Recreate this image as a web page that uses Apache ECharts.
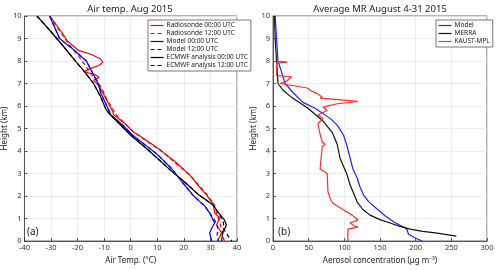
<!DOCTYPE html>
<html><head><meta charset="utf-8">
<script src="https://cdn.jsdelivr.net/npm/echarts@6/dist/echarts.min.js"></script>
<style>html,body{margin:0;padding:0;background:#fff}#c{width:500px;height:270px}</style>
</head><body><div id="c"></div>
<script>
// Panel (a): air temperature [T (°C), height (km)]
const radiosonde00 = [[-30.5,10],[-28,9.6],[-25.5,9.2],[-24,8.9],[-21,8.6],[-19.7,8.47],[-15,8.3],[-11.5,8.1],[-10.5,7.95],[-12,7.8],[-15.6,7.65],[-17.5,7.52],[-13.5,7.4],[-11.9,7.27],[-14,7.14],[-12.3,6.95],[-11,6.7],[-10.4,6.56],[-8.6,6.16],[-7.4,5.9],[-6.3,5.6],[-2,5.2],[1.1,4.83],[3.0,4.7],[11.2,4.04],[17,3.5],[22.3,2.93],[25.5,2.45],[28.5,2.05],[31,1.65],[31.6,1.24],[33.5,1.02],[32.3,0.71],[34.2,0.35],[32.7,0.0]];
const radiosonde12 = [[-30.5,10],[-26,9.2],[-23,8.7],[-19.5,8.2],[-16.5,7.7],[-14.5,7.35],[-12.5,7.1],[-11,6.8],[-9,6.3],[-7,5.9],[-5.5,5.6],[1.5,4.8],[11.5,4.0],[22.5,2.9],[28.5,2.1],[31.5,1.6],[32.2,1.3],[33,1.0],[33.8,0.7],[34.5,0.4],[35,0.1],[35.2,0]];
const model00 = [[-30.5,10],[-26.8,9.0],[-22,8.55],[-16.7,8.0],[-14.5,7.5],[-12.3,7.0],[-11.2,6.56],[-8.6,5.9],[-7.4,5.59],[-3,5.15],[0.7,4.7],[10,3.85],[15.5,3.2],[19.5,2.6],[23.4,2.04],[26,1.75],[27.9,1.55],[29.7,1.24],[31.6,0.8],[30.5,0.58],[29.7,0.35],[30.5,0.0]];
const model12 = [[-30.5,10],[-26.8,9.0],[-22,8.55],[-16.7,8.0],[-14.5,7.5],[-12.3,7.0],[-11.2,6.56],[-8.6,5.9],[-7.4,5.59],[-3,5.15],[0.7,4.7],[10,3.85],[15.5,3.2],[19.5,2.6],[23.4,2.04],[26,1.75],[27.9,1.55],[29.7,1.24],[31.5,0.95],[32.5,0.7],[33,0.5],[32.5,0.3],[33,0.0]];
const ecmwf00 = [[-35.3,10],[-30,9.3],[-25,8.6],[-20.5,7.95],[-17.8,7.58],[-14,7.0],[-11.5,6.45],[-9.3,5.85],[-8.2,5.67],[-6.7,5.5],[0,4.7],[7,4.0],[14.9,3.15],[20.5,2.6],[25.7,2.04],[31,1.6],[32.3,1.37],[35.3,0.93],[36,0.71],[34.6,0.35],[34.2,0.0]];
const ecmwf12 = [[-35.3,10],[-30,9.3],[-25,8.6],[-20.5,7.95],[-17.8,7.58],[-14,7.0],[-11.5,6.45],[-9.3,5.85],[-8.2,5.67],[-6.7,5.5],[0,4.7],[7,4.0],[14.9,3.15],[20.5,2.6],[25.7,2.04],[31,1.6],[32.3,1.37],[34.5,0.95],[35,0.75],[34.6,0.62],[36.4,0.27],[38,0.0]];
// Panel (b): aerosol concentration [µg m-3, height (km)]
const modelMR = [[3,10],[5,9],[7,8],[12.6,7.45],[17,7.0],[28,6.6],[42,6.16],[59,5.9],[80,5.45],[90,5.15],[99,4.7],[104,4.2],[108,3.7],[112,3.2],[118,2.8],[122,2.4],[127,2.04],[134,1.75],[146,1.42],[157,1.12],[169,0.86],[178,0.7],[185,0.6],[188,0.5],[190,0.3],[200,0.12],[209,0]];
const merra = [[2,10],[3,9],[5,8],[7,7.0],[14,6.7],[28,6.34],[49,5.9],[69,5.37],[83,4.83],[90,4.3],[94,3.68],[104,2.93],[108,2.5],[112,2.2],[118,1.73],[126,1.4],[136,1.15],[150,0.95],[164,0.8],[178,0.65],[192,0.53],[210,0.43],[230,0.35],[257,0.22]];
const kaust = [[3,8.0],[20,7.95],[5,7.9],[5,7.35],[26,7.3],[19,7.1],[10,7.0],[48,6.8],[52,6.7],[62,6.55],[69,6.4],[66,6.35],[108,6.24],[119,6.2],[90,6.1],[70,5.95],[76,5.8],[63,5.6],[70,5.45],[63,5.2],[66,4.75],[69,4.4],[73,4.3],[69,4.2],[66,3.2],[76,3.0],[77,2.2],[80,1.9],[84,1.68],[98,1.4],[111,1.15],[119,0.93],[108,0.8],[115,0.65],[119,0.62],[105,0.53],[105,0]];

const titleA = 'Air temp. Aug 2015';
const titleB = 'Average MR August 4-31 2015';

const FONT = 'Noto Sans';
const chart = echarts.init(document.getElementById('c'), null, {renderer:'canvas'});
function xAx(gi, min, max, interval, name){
  return {type:'value', gridIndex:gi, min, max, interval, name, nameLocation:'middle', nameGap:13,
    nameTextStyle:{fontSize:8, color:'#222', fontFamily:FONT},
    axisLine:{show:true, onZero:false, lineStyle:{color:'#333', width:0.8}},
    axisTick:{show:true, inside:true, length:3, lineStyle:{color:'#333', width:0.8}},
    axisLabel:{fontSize:7.5, color:'#333', margin:3, fontFamily:FONT},
    splitLine:{show:true, lineStyle:{color:'#e8e8e8', width:0.8}}};
}
function yAx(gi){
  return {type:'value', gridIndex:gi, min:0, max:10, interval:1, name:'Height (km)', nameLocation:'middle', nameGap:11,
    nameTextStyle:{fontSize:8, color:'#222', fontFamily:FONT},
    axisLine:{show:true, onZero:false, lineStyle:{color:'#333', width:0.8}},
    axisTick:{show:true, inside:true, length:3, lineStyle:{color:'#333', width:0.8}},
    axisLabel:{fontSize:7.5, color:'#333', margin:3, fontFamily:FONT},
    splitLine:{show:true, lineStyle:{color:'#e8e8e8', width:0.8}}};
}
function ln(name, data, xi, color, type, w){
  return {name, type:'line', data, xAxisIndex:xi, yAxisIndex:xi, symbol:'none', showSymbol:false, animation:false,
    color, lineStyle:{color, width:w||1.2, type:type||'solid'}};
}
const legendCommon = {orient:'vertical', itemWidth:13, itemHeight:6, itemGap:1, backgroundColor:'#fff',
  itemStyle:{opacity:0}, lineStyle:{width:1.2},
  borderColor:'#555', borderWidth:0.8, borderRadius:0, textStyle:{fontSize:6.5, color:'#222', fontFamily:FONT, padding:[0,0,0,-2]}};

chart.setOption({
  animation:false,
  textStyle:{fontFamily:FONT},
  grid:[
    {left:22, top:16, width:215, height:225, show:true, borderColor:'#444', borderWidth:0.8, backgroundColor:'#fff'},
    {left:273, top:16, width:214, height:225, show:true, borderColor:'#444', borderWidth:0.8, backgroundColor:'#fff'}
  ],
  xAxis:[xAx(0,-40,40,10,'Air Temp. (°C)'), xAx(1,0,300,50,'Aerosol concentration (μg m⁻³)')],
  yAxis:[yAx(0), yAx(1)],
  legend:[
    Object.assign({left:148, top:20, padding:[2,3,2,2], data:['Radiosonde 00:00 UTC','Radiosonde 12:00 UTC','Model 00:00 UTC','Model 12:00 UTC','ECMWF analysis 00:00 UTC','ECMWF analysis 12:00 UTC']}, legendCommon),
    Object.assign({left:436, top:20, padding:[2,3,2,2], data:['Model','MERRA','KAUST-MPL']}, legendCommon)
  ],
  graphic:[
    {type:'text', style:{text:titleA, x:130, y:9, fontSize:9.5, fill:'#222', align:'center', verticalAlign:'middle', fontFamily:FONT}},
    {type:'text', style:{text:titleB, x:380, y:9, fontSize:9.5, fill:'#222', align:'center', verticalAlign:'middle', fontFamily:FONT}},
    {type:'text', style:{text:'(a)', x:27, y:232, fontSize:10, fill:'#222', align:'left', verticalAlign:'middle', fontFamily:FONT}},
    {type:'text', style:{text:'(b)', x:278, y:232, fontSize:10, fill:'#222', align:'left', verticalAlign:'middle', fontFamily:FONT}}
  ],
  series:[
    ln('Radiosonde 00:00 UTC', radiosonde00, 0, '#ff0000', 'solid'),
    ln('Radiosonde 12:00 UTC', radiosonde12, 0, '#ff0000', [4,3]),
    ln('Model 00:00 UTC', model00, 0, '#0000ff', 'solid'),
    ln('Model 12:00 UTC', model12, 0, '#0000ff', [4,3]),
    ln('ECMWF analysis 00:00 UTC', ecmwf00, 0, '#000000', 'solid'),
    ln('ECMWF analysis 12:00 UTC', ecmwf12, 0, '#000000', [4,3]),
    ln('Model', modelMR, 1, '#2222ff', 'solid'),
    ln('MERRA', merra, 1, '#111111', 'solid'),
    ln('KAUST-MPL', kaust, 1, '#ff2a2a', 'solid')
  ]
});
</script></body></html>
